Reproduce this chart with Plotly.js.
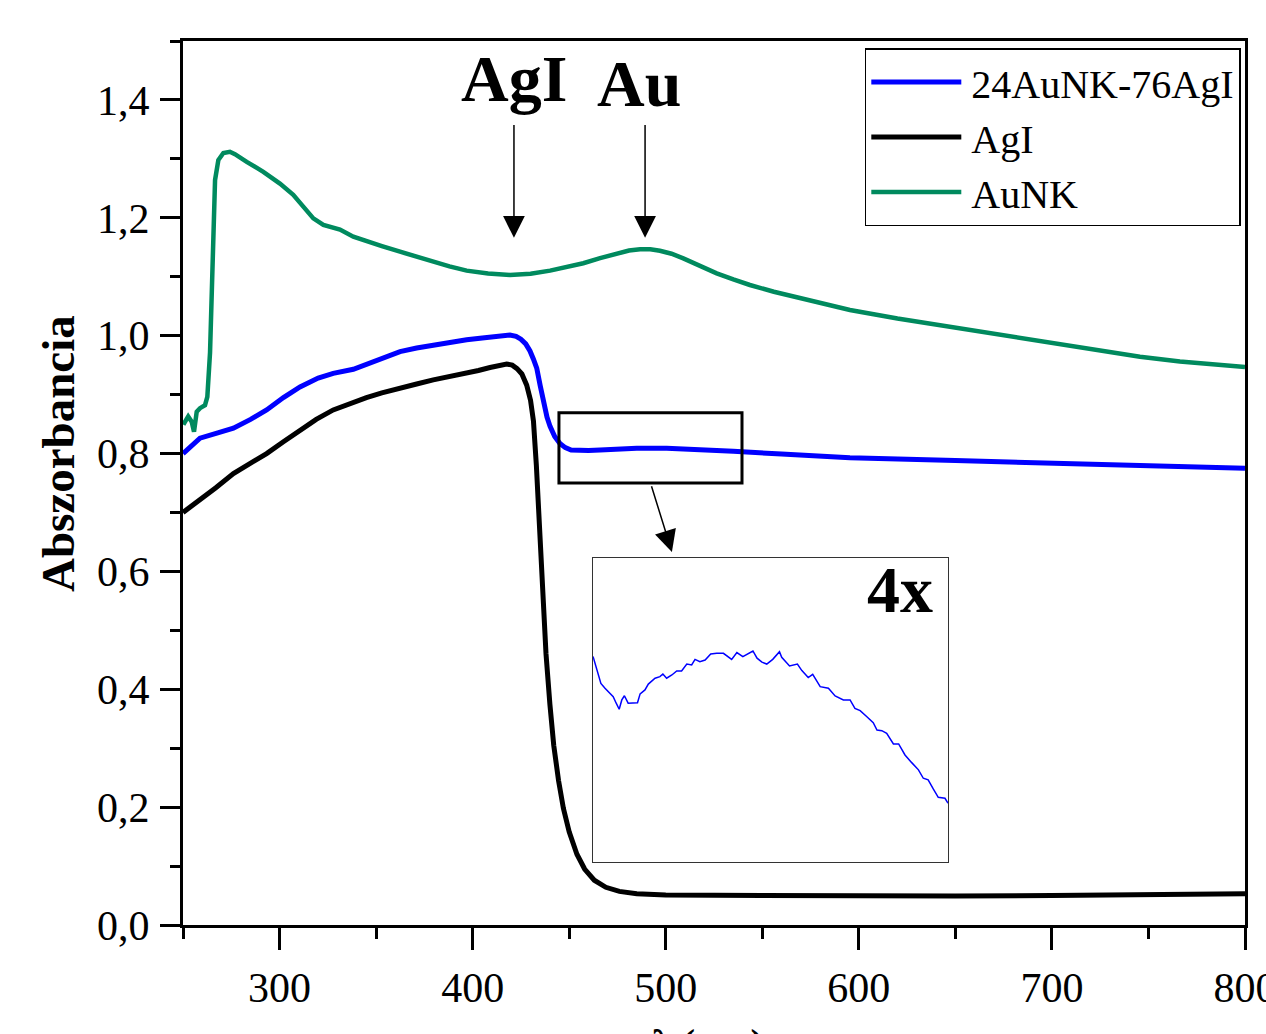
<!DOCTYPE html>
<html>
<head>
<meta charset="utf-8">
<script src="https://cdn.plot.ly/plotly-3.0.1.min.js"></script>
<style>html,body{margin:0;padding:0;background:#fff;}#chart{width:1266px;height:1034px;}</style>
</head>
<body>
<div id="chart"></div>
<script>
// ---- Data ----
const seriesNames = ["24AuNK-76AgI", "AgI", "AuNK"];

const wlMix = [250,258.8,268,276.1,285,293.3,302,310.6,320,327.8,338.2,350,362.4,371,379.6,388,396.9,405,412,419.3,422.5,425,427.5,429.7,431.5,433.2,435,436.6,438.5,440.1,442.5,445.2,448,451,453.9,460,466,475,485,500.5,520,535,560,595.4,650,700,724.9,760,800];
const absMix = [0.800,0.826,0.835,0.843,0.858,0.874,0.895,0.913,0.928,0.936,0.943,0.958,0.973,0.979,0.984,0.989,0.993,0.996,0.999,1.001,0.999,0.994,0.986,0.974,0.960,0.945,0.915,0.890,0.862,0.846,0.829,0.817,0.810,0.806,0.805,0.805,0.806,0.808,0.809,0.809,0.807,0.804,0.799,0.793,0.788,0.784,0.781,0.778,0.775];

const wlAgI = [250,258.8,267,276.1,285,293.3,302,310.6,319,327.8,336,345,353,362.4,371,379.6,388,396.9,403,409,414,417.6,420.5,423,425.5,428,430,431.5,433,434.5,436,438,440,442,444.5,447,450,454,458,463,469,476,485,500,550,600,650,700,750,800];
const absAgI = [0.700,0.721,0.742,0.766,0.783,0.800,0.820,0.840,0.858,0.874,0.885,0.895,0.903,0.910,0.918,0.925,0.930,0.936,0.941,0.946,0.950,0.952,0.950,0.944,0.935,0.916,0.890,0.855,0.780,0.680,0.575,0.460,0.375,0.305,0.245,0.198,0.158,0.120,0.095,0.076,0.064,0.057,0.053,0.051,0.050,0.049,0.049,0.050,0.051,0.053];

const wlAu = [250.2,252.7,254.5,255.7,257.1,258.8,261.4,262.6,264.0,264.9,265.7,266.6,268.3,270.9,274.3,276.9,283.0,291.6,300.2,307.1,312.3,317.5,322.7,331.3,338.2,345,353,362.4,371,379.6,388,396.9,408,419.3,430,440.1,448,457.3,466,474.6,481,486.7,492,497.0,503,509.1,517,526.4,535,543.6,556,569.5,582,595.4,620,647,675,700,724.9,745.6,766.3,800];
const absAu = [0.849,0.863,0.854,0.837,0.871,0.877,0.882,0.896,0.971,1.083,1.196,1.264,1.298,1.310,1.312,1.308,1.295,1.278,1.258,1.239,1.219,1.199,1.188,1.180,1.168,1.160,1.152,1.1425,1.1335,1.1256,1.1175,1.1103,1.1055,1.1030,1.1050,1.1103,1.1160,1.1229,1.1315,1.1398,1.1445,1.1466,1.1465,1.1441,1.1390,1.1312,1.1195,1.1057,1.0955,1.0860,1.0745,1.0634,1.0535,1.0436,1.0290,1.015,1.0005,0.988,0.9757,0.9644,0.956,0.947];

// inset (4x magnified detail of the 24AuNK-76AgI curve)
const insetWl = [445.0,446.4,447.1,448.2,449.5,450.4,451.2,452.0,452.7,453.4,454.4,455.8,456.9,457.6,458.9,459.8,461.6,462.9,463.7,464.7,466.1,467.4,468.7,470.1,471.4,472.3,473.6,475.0,476.5,478.1,479.9,482.1,483.5,485.1,486.6,487.8,488.9,490.2,491.5,493.1,494.9,495.5,497.6,499.7,500.9,502.6,503.8,505.8,508.0,509.8,512.0,513.8,515.1,516.5,518.3,520.0,521.0,522.3,523.6,525.4,526.8,528.5,530.3,532.1,533.4,534.7,536.1,537.4,539.2,540.0];
const insetAbs = [0.80827,0.80755,0.80712,0.80691,0.80670,0.80655,0.80627,0.80601,0.80641,0.80659,0.80627,0.80629,0.80629,0.80667,0.80684,0.80709,0.80734,0.80741,0.80752,0.80734,0.80748,0.80765,0.80765,0.80795,0.80791,0.80815,0.80805,0.80812,0.80838,0.80841,0.80841,0.80815,0.80844,0.80827,0.80841,0.80851,0.80820,0.80803,0.80795,0.80815,0.80848,0.80824,0.80787,0.80795,0.80767,0.80737,0.80751,0.80698,0.80691,0.80658,0.80641,0.80641,0.80605,0.80595,0.80569,0.80543,0.80512,0.80509,0.80498,0.80452,0.80452,0.80405,0.80372,0.80341,0.80305,0.80298,0.80258,0.80223,0.80219,0.80198];

const xTickVals = [300,400,500,600,700,800];
const yTickVals = [0,0.2,0.4,0.6,0.8,1.0,1.2,1.4];
const xTitle = "λ (nm)";
const yTitle = "Abszorbancia";

// ---- Styling ----
const serif = "Liberation Serif, Times New Roman, serif";
const colors = ["#0000FF", "#000000", "#008A5E"];
const nb = "\u00A0";

const traces = [
  {x: wlMix, y: absMix, name: seriesNames[0], mode: "lines", line: {color: colors[0], width: 5}},
  {x: wlAgI, y: absAgI, name: seriesNames[1], mode: "lines", line: {color: colors[1], width: 5}},
  {x: wlAu, y: absAu, name: seriesNames[2], mode: "lines", line: {color: colors[2], width: 4.5}},
  {x: insetWl, y: insetAbs, xaxis: "x2", yaxis: "y2", mode: "lines", showlegend: false,
   line: {color: colors[0], width: 1.5}}
];

const layout = {
  width: 1266, height: 1034,
  margin: {l: 183, r: 21, t: 41, b: 109},
  paper_bgcolor: "#fff", plot_bgcolor: "rgba(0,0,0,0)",
  separators: ", ",
  font: {family: serif, color: "#000", size: 40},
  showlegend: true,
  legend: {
    x: 0.642, y: 0.992, xanchor: "left", yanchor: "top",
    bgcolor: "#fff", bordercolor: "#000", borderwidth: 1.5,
    font: {family: serif, size: 40, color: "#000"},
    itemwidth: 95, tracegroupgap: 0
  },
  xaxis: {
    range: [250, 800], tickvals: xTickVals, ticktext: xTickVals.map(String),
    showgrid: false, zeroline: false,
    showline: true, linewidth: 3, linecolor: "#000", mirror: true,
    ticks: "outside", ticklen: 22, tickwidth: 3, tickcolor: "#000",
    minor: {ticks: "outside", ticklen: 11, tickwidth: 3, tickcolor: "#000", dtick: 50, tick0: 250},
    tickfont: {family: serif, size: 42, color: "#000"},
    ticklabelstandoff: 2,
    ticklabeloverflow: "allow"
  },
  yaxis: {
    range: [0, 1.5], tickvals: yTickVals, tickformat: ".1f",
    showgrid: false, zeroline: false,
    showline: true, linewidth: 3, linecolor: "#000", mirror: true,
    ticks: "outside", ticklen: 20, tickwidth: 3, tickcolor: "#000",
    minor: {ticks: "outside", ticklen: 10, tickwidth: 3, tickcolor: "#000", dtick: 0.1, tick0: 0},
    tickfont: {family: serif, size: 42, color: "#000"},
    ticklabelstandoff: 2,
    title: {text: "<b>" + nb.repeat(5) + yTitle + "</b>", font: {family: serif, size: 47, color: "#000"}, standoff: 8}
  },
  xaxis2: {
    domain: [0.3861, 0.7203], anchor: "y2", range: [445, 540],
    showgrid: false, zeroline: false, showticklabels: false, ticks: "",
    showline: true, mirror: true, linewidth: 1.2, linecolor: "#333"
  },
  yaxis2: {
    domain: [0.0716, 0.4152], anchor: "x2", range: [0.79947, 0.8125],
    showgrid: false, zeroline: false, showticklabels: false, ticks: "",
    showline: true, mirror: true, linewidth: 1.2, linecolor: "#333"
  },
  shapes: [
    {type: "rect", xref: "x", yref: "y", x0: 444.7, x1: 539.5, y0: 0.750, y1: 0.869,
     line: {color: "#000", width: 3}, fillcolor: "rgba(0,0,0,0)"}
  ],
  annotations: [
    {xref: "paper", yref: "paper", x: 0.4944, y: -0.1063, text: "<b>" + xTitle + "</b>", showarrow: false,
     font: {family: serif, size: 40, color: "#000"}, xanchor: "center", yanchor: "top"},
    {xref: "x", yref: "y", x: 421.4, y: 1.437, text: "<b>AgI</b>", showarrow: false,
     font: {family: serif, size: 66, color: "#000"}, xanchor: "center", yanchor: "middle"},
    {xref: "x", yref: "y", x: 485.9, y: 1.428, text: "<b>Au</b>", showarrow: false,
     font: {family: serif, size: 66, color: "#000"}, xanchor: "center", yanchor: "middle"},
    {xref: "x", yref: "y", x: 421.4, y: 1.166, axref: "x", ayref: "y", ax: 421.4, ay: 1.36,
     text: "", showarrow: true, arrowhead: 2, arrowsize: 2.9, arrowwidth: 1.5, arrowcolor: "#000", standoff: 0, startstandoff: 0},
    {xref: "x", yref: "y", x: 489.3, y: 1.166, axref: "x", ayref: "y", ax: 489.3, ay: 1.36,
     text: "", showarrow: true, arrowhead: 2, arrowsize: 2.9, arrowwidth: 1.5, arrowcolor: "#000", standoff: 0, startstandoff: 0},
    {xref: "x", yref: "y", x: 503.2, y: 0.633, axref: "x", ayref: "y", ax: 492.4, ay: 0.747,
     text: "", showarrow: true, arrowhead: 2, arrowsize: 2.9, arrowwidth: 1.5, arrowcolor: "#000", standoff: 0, startstandoff: 0},
    {xref: "paper", yref: "paper", x: 0.675, y: 0.380, text: "<b>4x</b>", showarrow: false,
     font: {family: serif, size: 66, color: "#000"}, xanchor: "center", yanchor: "middle"}
  ]
};

Plotly.newPlot("chart", traces, layout, {displayModeBar: false, staticPlot: true}).then(function () {
  document.querySelectorAll(".legend .legendlines path").forEach(function (p) {
    p.setAttribute("d", "M5,0h90");
  });
});
</script>
</body>
</html>
